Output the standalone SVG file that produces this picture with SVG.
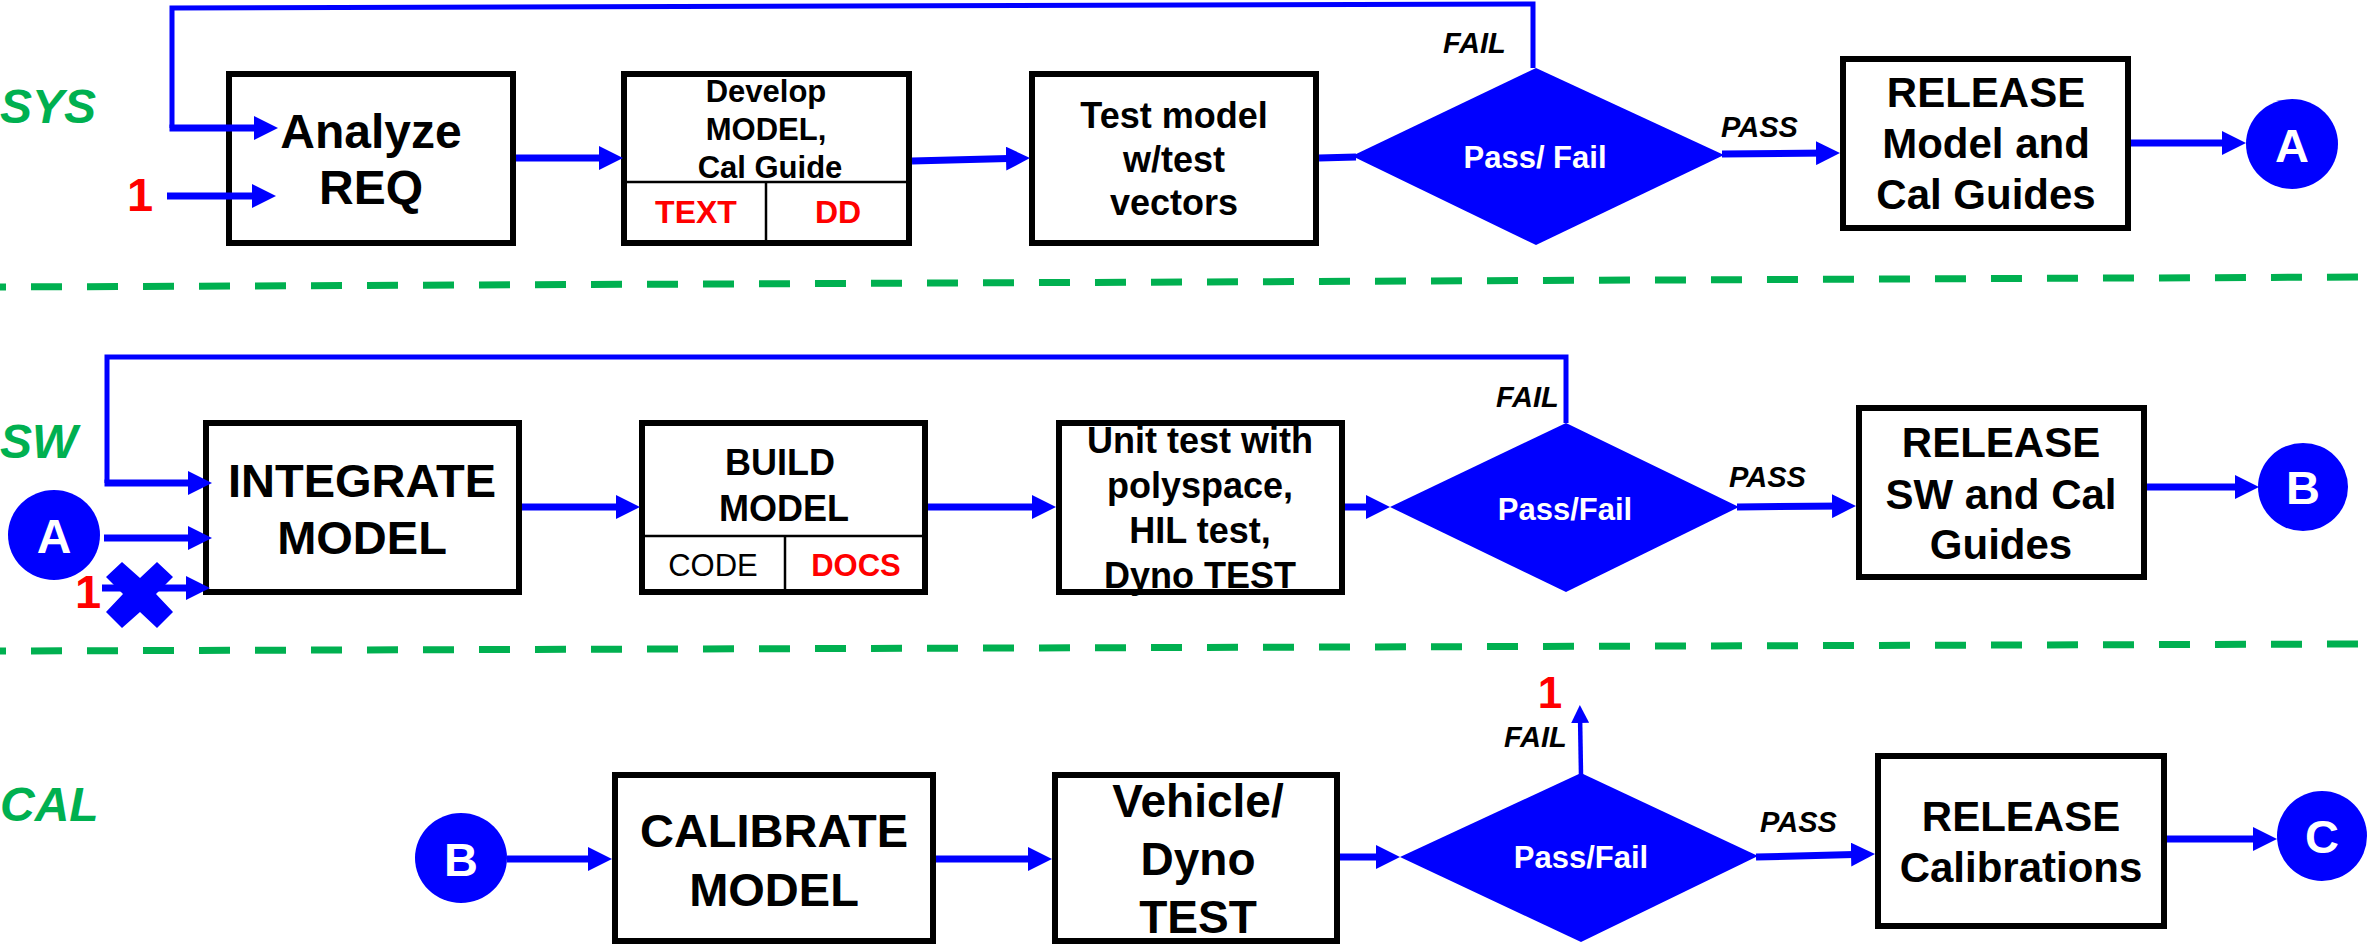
<svg xmlns="http://www.w3.org/2000/svg" width="2369" height="947" viewBox="0 0 2369 947">
  <style>
    .box { fill: #ffffff; stroke: #000000; stroke-width: 6; }
    .div { stroke: #000000; stroke-width: 2.5; fill: none; }
    .t { font-family: "Liberation Sans", Arial, sans-serif; font-weight: bold; fill: #000000; text-anchor: middle; }
    .t.reg { font-weight: normal; }
    .lane { font-family: "Liberation Sans", Arial, sans-serif; font-weight: bold; font-style: italic; fill: #00B050; font-size: 48px; }
    .lbl { font-family: "Liberation Sans", Arial, sans-serif; font-weight: bold; font-style: italic; fill: #000000; font-size: 29px; }
    .red { fill: #FF0000; }
    .wt { fill: #ffffff; }
    .dia { fill: #0000FF; }
    .conn { fill: #0000FF; }
    .ar { stroke: #0000FF; stroke-width: 7; fill: none; }
    .loop { stroke: #0000FF; stroke-width: 5; fill: none; stroke-linejoin: miter; }
    .sep { stroke: #00B050; stroke-width: 7; stroke-dasharray: 31 25; stroke-dashoffset: 25; }
  </style>
  <defs>
    <marker id="head" markerUnits="userSpaceOnUse" markerWidth="24" markerHeight="24" refX="12" refY="12" orient="auto">
      <path d="M0,0 L24,12 L0,24 Z" fill="#0000FF"/>
    </marker>
    <marker id="headSmall" markerUnits="userSpaceOnUse" markerWidth="18" markerHeight="18" refX="9" refY="9" orient="auto">
      <path d="M0,0 L18,9 L0,18 Z" fill="#0000FF"/>
    </marker>
  </defs>

  <!-- lane separators -->
  <line class="sep" x1="0" y1="287" x2="2369" y2="277"/>
  <line class="sep" x1="0" y1="651" x2="2369" y2="644"/>

  <!-- lane labels -->
  <text class="lane" x="0" y="123">SYS</text>
  <text class="lane" x="0" y="458">SW</text>
  <text class="lane" x="0" y="821">CAL</text>

  <!-- SYS lane nodes -->
  <g id="sys-in">
    <text class="t red" x="140" y="211" font-size="47">1</text>
  </g>
  <g id="analyze-req">
    <rect class="box" x="229" y="74" width="284" height="169"/>
    <text class="t" x="371" y="148" font-size="48">Analyze</text>
    <text class="t" x="371" y="204" font-size="48">REQ</text>
  </g>
  <g id="develop-model">
    <rect class="box" x="624" y="74" width="285" height="169"/>
    <line class="div" x1="624" y1="182" x2="909" y2="182"/>
    <line class="div" x1="766" y1="182" x2="766" y2="243"/>
    <text class="t" x="766" y="102" font-size="31">Develop</text>
    <text class="t" x="766" y="140" font-size="31">MODEL,</text>
    <text class="t" x="770" y="178" font-size="31">Cal Guide</text>
    <text class="t red" x="696" y="223" font-size="32">TEXT</text>
    <text class="t red" x="838" y="223" font-size="32">DD</text>
  </g>
  <g id="test-model">
    <rect class="box" x="1032" y="74" width="284" height="169"/>
    <text class="t" x="1174" y="128" font-size="36">Test model</text>
    <text class="t" x="1174" y="172" font-size="36">w/test</text>
    <text class="t" x="1174" y="215" font-size="36">vectors</text>
  </g>
  <g id="sys-decision">
    <polygon class="dia" points="1352,156 1536,68 1724,155 1536,245"/>
    <text class="t wt" x="1535" y="168" font-size="31">Pass/ Fail</text>
  </g>
  <g id="release-model">
    <rect class="box" x="1843" y="59" width="285" height="169"/>
    <text class="t" x="1986" y="107" font-size="42">RELEASE</text>
    <text class="t" x="1986" y="158" font-size="42">Model and</text>
    <text class="t" x="1986" y="209" font-size="42">Cal Guides</text>
  </g>
  <g id="conn-a-out">
    <ellipse class="conn" cx="2292" cy="144" rx="46" ry="45"/>
    <text class="t wt" x="2292" y="162" font-size="47">A</text>
  </g>

  <!-- SW lane nodes -->
  <g id="conn-a-in">
    <ellipse class="conn" cx="54" cy="535" rx="46" ry="45"/>
    <text class="t wt" x="54" y="553" font-size="48">A</text>
  </g>
  <g id="integrate-model">
    <rect class="box" x="206" y="423" width="313" height="169"/>
    <text class="t" x="362" y="497" font-size="47">INTEGRATE</text>
    <text class="t" x="362" y="554" font-size="47">MODEL</text>
  </g>
  <g id="build-model">
    <rect class="box" x="642" y="423" width="283" height="169"/>
    <line class="div" x1="642" y1="536" x2="925" y2="536"/>
    <line class="div" x1="785" y1="536" x2="785" y2="592"/>
    <text class="t" x="780" y="475" font-size="36">BUILD</text>
    <text class="t" x="784" y="521" font-size="36">MODEL</text>
    <text class="t reg" x="713" y="576" font-size="31">CODE</text>
    <text class="t red" x="856" y="576" font-size="31">DOCS</text>
  </g>
  <g id="unit-test">
    <rect class="box" x="1059" y="423" width="283" height="169"/>
    <text class="t" x="1200" y="453" font-size="36">Unit test with</text>
    <text class="t" x="1200" y="498" font-size="36">polyspace,</text>
    <text class="t" x="1200" y="543" font-size="36">HIL test,</text>
    <text class="t" x="1200" y="588" font-size="36">Dyno TEST</text>
  </g>
  <g id="sw-decision">
    <polygon class="dia" points="1390,507 1566,423 1739,507 1566,592"/>
    <text class="t wt" x="1565" y="520" font-size="31">Pass/Fail</text>
  </g>
  <g id="release-sw">
    <rect class="box" x="1859" y="408" width="285" height="169"/>
    <text class="t" x="2001" y="457" font-size="42">RELEASE</text>
    <text class="t" x="2001" y="509" font-size="42">SW and Cal</text>
    <text class="t" x="2001" y="559" font-size="42">Guides</text>
  </g>
  <g id="conn-b-out">
    <ellipse class="conn" cx="2303" cy="487" rx="45" ry="44"/>
    <text class="t wt" x="2303" y="504" font-size="47">B</text>
  </g>

  <!-- CAL lane nodes -->
  <g id="conn-b-in">
    <ellipse class="conn" cx="461" cy="858" rx="46" ry="45"/>
    <text class="t wt" x="461" y="876" font-size="47">B</text>
  </g>
  <g id="calibrate-model">
    <rect class="box" x="615" y="775" width="318" height="166"/>
    <text class="t" x="774" y="847" font-size="47">CALIBRATE</text>
    <text class="t" x="774" y="906" font-size="47">MODEL</text>
  </g>
  <g id="vehicle-test">
    <rect class="box" x="1055" y="775" width="282" height="166"/>
    <text class="t" x="1198" y="817" font-size="46">Vehicle/</text>
    <text class="t" x="1198" y="875" font-size="46">Dyno</text>
    <text class="t" x="1198" y="933" font-size="46">TEST</text>
  </g>
  <g id="cal-decision">
    <polygon class="dia" points="1400,857 1581,773 1758,856 1581,942"/>
    <text class="t wt" x="1581" y="868" font-size="31">Pass/Fail</text>
  </g>
  <g id="cal-fail-out">
    <text class="t red" x="1550" y="708" font-size="44">1</text>
  </g>
  <g id="release-cal">
    <rect class="box" x="1878" y="756" width="286" height="170"/>
    <text class="t" x="2021" y="831" font-size="42">RELEASE</text>
    <text class="t" x="2021" y="882" font-size="42">Calibrations</text>
  </g>
  <g id="conn-c-out">
    <ellipse class="conn" cx="2322" cy="836" rx="45" ry="45"/>
    <text class="t wt" x="2322" y="853" font-size="47">C</text>
  </g>

  <!-- connectors (drawn over the boxes so arrowheads show inside them) -->
  <g id="connectors">
    <!-- SYS lane -->
    <polyline class="loop" points="1533,68 1533,4 172,8 172,128"/>
    <line class="ar" x1="169.5" y1="128" x2="266" y2="128" marker-end="url(#head)"/>
    <line class="ar" x1="167" y1="196" x2="264" y2="196" marker-end="url(#head)"/>
    <line class="ar" x1="516" y1="158" x2="611" y2="158" marker-end="url(#head)"/>
    <line class="ar" x1="912" y1="161" x2="1018" y2="158.3" marker-end="url(#head)"/>
    <line class="ar" x1="1319" y1="158" x2="1356" y2="157"/>
    <line class="ar" x1="1722" y1="154" x2="1828" y2="153" marker-end="url(#head)"/>
    <line class="ar" x1="2131" y1="143" x2="2234" y2="143" marker-end="url(#head)"/>
    <text class="lbl" x="1443" y="53">FAIL</text>
    <text class="lbl" x="1721" y="137">PASS</text>

    <!-- SW lane -->
    <polyline class="loop" points="1566,423 1566,357 107,357 107,483"/>
    <line class="ar" x1="104.5" y1="483" x2="200" y2="483" marker-end="url(#head)"/>
    <line class="ar" x1="104" y1="538" x2="200" y2="538" marker-end="url(#head)"/>
    <line class="ar" x1="102" y1="588" x2="198" y2="588" marker-end="url(#head)"/>
    <text class="t red" x="88" y="608" font-size="47">1</text>
    <!-- blocked input -->
    <polygon class="conn" points="106,577 122,562 140,578 157,562 173,577 156,594 173,612 157,628 140,612 122,628 106,612 123,594"/>
    <line class="ar" x1="522" y1="507" x2="628" y2="507" marker-end="url(#head)"/>
    <line class="ar" x1="928" y1="507" x2="1044" y2="507" marker-end="url(#head)"/>
    <line class="ar" x1="1345" y1="507" x2="1378" y2="507" marker-end="url(#head)"/>
    <line class="ar" x1="1737" y1="507" x2="1844" y2="506" marker-end="url(#head)"/>
    <line class="ar" x1="2147" y1="487" x2="2247" y2="487" marker-end="url(#head)"/>
    <text class="lbl" x="1496" y="407">FAIL</text>
    <text class="lbl" x="1729" y="487">PASS</text>

    <!-- CAL lane -->
    <line class="ar" x1="507" y1="859" x2="600" y2="859" marker-end="url(#head)"/>
    <line class="ar" x1="936" y1="859" x2="1040" y2="859" marker-end="url(#head)"/>
    <line class="ar" x1="1340" y1="857" x2="1388" y2="857" marker-end="url(#head)"/>
    <line x1="1581" y1="775" x2="1580" y2="714" stroke="#0000FF" stroke-width="4.5" marker-end="url(#headSmall)"/>
    <line class="ar" x1="1756" y1="857" x2="1863" y2="854.3" marker-end="url(#head)"/>
    <line class="ar" x1="2167" y1="839" x2="2265" y2="839" marker-end="url(#head)"/>
    <text class="lbl" x="1504" y="747">FAIL</text>
    <text class="lbl" x="1760" y="832">PASS</text>
  </g>
</svg>
